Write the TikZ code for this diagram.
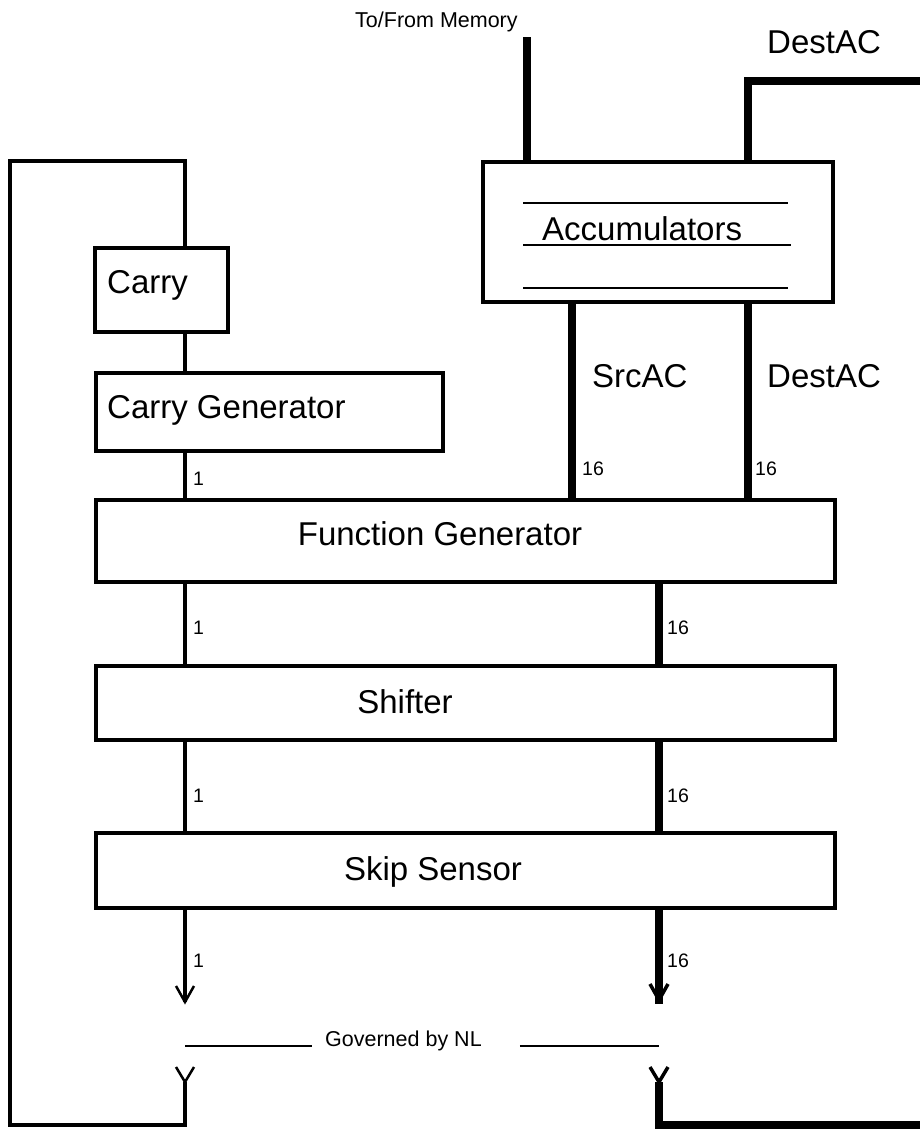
\documentclass[tikz,border=0pt]{standalone}
\usepackage{fontspec}
\setmainfont{Liberation Sans}
\begin{document}
\begin{tikzpicture}[x=1pt,y=-1pt,
  box/.style={draw,line width=4pt,inner sep=0pt,rectangle},
  big/.style={font=\fontsize{33}{36}\selectfont,inner sep=0pt,anchor=base west},
  mid/.style={font=\fontsize{21.5}{24}\selectfont,inner sep=0pt,anchor=base west},
  small/.style={font=\fontsize{19.5}{22}\selectfont,inner sep=0pt,anchor=base west},
  bit/.style={line width=4.5pt},
  word/.style={line width=7.5pt},
  thinln/.style={line width=2.5pt},
  barb/.style={line width=2.5pt},
  wbarb/.style={line width=3.5pt}]
\useasboundingbox (0,0) rectangle (920,1130);

% boxes
\node[box,minimum width=133pt,minimum height=84pt] (carry) at (161.5,290) {};
\node[box,minimum width=347pt,minimum height=78pt] (cgen) at (269.5,412) {};
\node[box,minimum width=350pt,minimum height=140pt] (acc) at (658,232) {};
\node[box,minimum width=739pt,minimum height=82pt] (fg) at (465.5,541) {};
\node[box,minimum width=739pt,minimum height=74pt] (shift) at (465.5,703) {};
\node[box,minimum width=739pt,minimum height=75pt] (skip) at (465.5,870.5) {};

% box texts
\node[big] (tcarry) at (107,293) {Carry};
\node[big] (tcgen) at (107,418) {Carry Generator};
\node[big] (tacc) at (542,240) {Accumulators};
\node[big,anchor=base] (tfg) at (440,545) {Function Generator};
\node[big,anchor=base] (tsh) at (405,713) {Shifter};
\node[big,anchor=base] (tsk) at (433,880) {Skip Sensor};

% accumulator register lines
\draw[thinln] (523,203) -- (788,203);
\draw[thinln] (523,245) -- (791,245);
\draw[thinln] (523,288) -- (788,288);

% reference columns
\coordinate (c1) at (185,0);
\coordinate (c16) at (659,0);
\coordinate (src) at (572,0);
\coordinate (dst) at (748,0);
\coordinate (mem) at (527,0);
\coordinate (memtop) at (527,37);
\coordinate (dtop) at (748,81);
\coordinate (dright) at (920,81);
\coordinate (looptl) at (10,161);
\coordinate (loopbl) at (10,1125);
\coordinate (loopbr) at (185,1125);
\coordinate (yl) at (185,1082);
\coordinate (yr) at (659,1082);
\coordinate (wbr) at (659,1125);
\coordinate (wright) at (920,1125);
\coordinate (al) at (185,1002);
\coordinate (ar) at (659,1000);

% top labels and buses
\node[mid] (tmem) at (355,27) {To/From Memory};
\node[big] (tdtop) at (767,53) {DestAC};
\draw[word] (acc.north -| mem) -- (memtop);
\draw[word,line join=miter] (acc.north -| dst) -- (dtop) -- (dright);

% accumulator outputs
\draw[word] (acc.south -| src) -- (fg.north -| src);
\draw[word] (acc.south -| dst) -- (fg.north -| dst);
\node[big] (tsrc) at (592,387) {SrcAC};
\node[big] (tdst) at (767,387) {DestAC};
\node[small] (n1) at (582,475) {16};
\node[small] (n2) at (755,475) {16};

% carry chain
\draw[bit,line join=miter] (carry.north -| c1) -- (c1 |- looptl) -- (looptl) -- (loopbl) -- (loopbr) -- (yl);
\draw[barb] (176,1067) -- (yl) -- (194,1067);
\draw[bit] (carry.south -| c1) -- (cgen.north -| c1);
\draw[bit] (cgen.south -| c1) -- (fg.north -| c1);
\node[small] (b1) at (193,485) {1};

% function generator -> shifter
\draw[bit] (fg.south -| c1) -- (shift.north -| c1);
\draw[word] (fg.south -| c16) -- (shift.north -| c16);
\node[small] (b2) at (193,634) {1};
\node[small] (w2) at (667,634) {16};

% shifter -> skip sensor
\draw[bit] (shift.south -| c1) -- (skip.north -| c1);
\draw[word] (shift.south -| c16) -- (skip.north -| c16);
\node[small] (b3) at (193,802) {1};
\node[small] (w3) at (667,802) {16};

% skip sensor outputs
\draw[bit] (skip.south -| c1) -- (al);
\draw[barb] (176,986) -- (al) -- (194,986);
\draw[word] (skip.south -| c16) -- ([yshift=-4pt]ar);
\draw[wbarb] (650,984) -- (ar) -- (668,984);
\node[small] (b4) at (193,967) {1};
\node[small] (w4) at (667,967) {16};

% governed by NL
\node[mid] (gov) at (325,1046) {Governed by NL};
\draw[thinln] (c1 |- gov.base) -- ([xshift=-13pt]gov.base west);
\draw[thinln] ([xshift=38pt]gov.base east) -- (c16 |- gov.base);

% right output bus
\draw[word,line join=miter] (yr) -- (wbr) -- (wright);
\draw[wbarb] (650,1067) -- (yr) -- (668,1067);
\end{tikzpicture}
\end{document}
